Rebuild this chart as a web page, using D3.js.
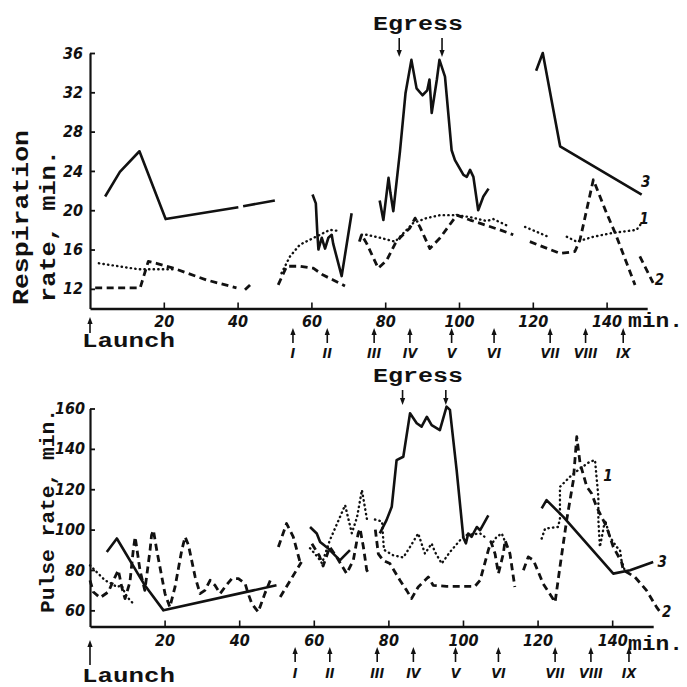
<!DOCTYPE html>
<html>
<head>
<meta charset="utf-8">
<script src="https://cdn.jsdelivr.net/npm/d3@7/dist/d3.min.js"></script>
<style>
  body { margin: 0; background: #fff; }
  svg { display: block; }
  .tick text { font-family: "Liberation Sans Narrow", "DejaVu Sans Condensed", "Liberation Sans", sans-serif;
    font-style: italic; font-weight: bold; font-size: 16px; fill: #111; }
  .tick line, .domain { stroke: #111; }
  .lbl { font-family: "Liberation Mono", "DejaVu Sans Mono", monospace; font-weight: bold; fill: #111; }
  .num { font-family: "Liberation Sans Narrow", "DejaVu Sans Condensed", sans-serif; font-style: italic; font-weight: bold; fill: #111; }
</style>
</head>
<body>
<svg id="chart" width="687" height="687"></svg>
<script>
// axis ticks
var respTicks = [12, 16, 20, 24, 28, 32, 36];
var pulseTicks = [60, 80, 100, 120, 140, 160];
var minuteTicks = [20, 40, 60, 80, 100, 120, 140];

// stage marks under the time axis
var stageNames = ['I', 'II', 'III', 'IV', 'V', 'VI', 'VII', 'VIII', 'IX'];
var stageMin = [55, 64.3, 77, 86.7, 98, 109.5, 124.7, 134.3, 144.5];
var egressMin = [83.8, 95.4];

// respiration rate (minutes, per min), broken into the printed pieces
var respSolid = [
  [[4.1,21.4],[8.1,23.9],[13.4,26.0],[20.5,19.1],[40.2,20.3]],
  [[41.5,20.4],[50.1,21.0]],
  [[60.3,21.6],[61.2,20.7],[61.6,17.7],[61.9,16.0],[62.8,17.2],[63.7,16.1],[64.6,17.2],[65.5,17.5],[65.9,16.6],[68.2,13.3],[70.9,19.7]],
  [[78.5,21.0],[79.5,19.0],[80.9,23.3],[81.4,21.8],[82.2,19.9],[84.0,26.0],[85.5,31.9],[87.1,35.3],[88.5,32.4],[90.1,31.7],[91.4,32.2],[92.0,33.3],[92.6,29.9],[94.0,33.3],[94.7,35.3],[96.2,33.6],[98.0,26.1],[98.9,25.1],[101.2,23.6],[102.1,23.4],[103.0,24.1],[103.9,23.4],[105.2,20.0],[106.6,21.4],[108.0,22.2]],
  [[120.9,34.2],[122.7,36.0],[127.4,26.5],[149.5,21.6]]
];
var respDotted = [
  [[2.4,14.6],[13,14.0],[22.5,14.0]],
  [[51.9,13.6],[54.2,15.3],[56.9,16.5],[59.6,17.0],[62.3,17.5],[65.0,18.0],[67.3,17.9]],
  [[73.6,17.5],[75.0,17.5],[78.6,17.2],[82.7,16.8],[84.0,17.3],[87.6,18.7],[91.2,19.2],[94.9,19.5],[99.4,19.5],[103,19.3],[107.5,18.9],[109.3,19.1],[113.8,18.3]],
  [[117.9,18.3],[124.2,17.3]],
  [[129.2,17.3],[131.9,16.8],[136.4,17.3],[141.8,17.7],[148.1,18.0],[149.5,18.7]]
];
var respDashed = [
  [[1.4,12.1],[13.6,12.1],[15.8,14.8],[18.0,14.6],[22.6,14.1],[31.6,12.9],[39.7,12.1]],
  [[42,11.9],[43.4,12.4]],
  [[51.0,12.4],[53.3,14.3],[56.9,14.3],[60.5,14.1],[63.2,13.4],[65.9,12.9],[69.1,12.3]],
  [[73.0,16.8],[73.6,17.5],[75.0,16.6],[78.1,14.1],[80.4,14.9],[82.7,16.6],[84.0,17.2],[86.7,18.2],[88.1,19.2],[89.4,18.3],[92.1,16.1],[94.9,17.2],[99.4,19.5],[103.0,19.0],[111.1,18.0],[114.7,17.5]],
  [[119.2,16.8],[127.4,15.6],[131.4,15.8],[132.8,17.0],[136.4,23.1],[140,19.7],[142.3,17.7],[147.7,12.4]],
  [[149.0,15.3],[152.6,12.6]]
];

// pulse rate (minutes, per min)
var pulseSolid = [
  [[4.5,88.9],[7.2,95.6],[14.7,72.4],[19.7,60],[43.8,69.9],[50,72.4]],
  [[59.0,101.3],[60.8,98.1],[61.7,93.9],[63.9,90.6],[66.1,86.5],[67.0,84.8],[67.9,86.5],[69.7,89.8]],
  [[77.7,98.1],[79.5,104.7],[80.9,111.3],[82.2,134.4],[84.0,136.1],[85.8,157.6],[87.6,152.7],[88.9,151.0],[90.3,155.9],[91.6,151.8],[93.8,149.3],[95.6,160.9],[96.5,159.3],[98.3,129.5],[100.1,96],[100.8,93.2],[101.4,98.1],[102.3,96.4],[103.7,101.3],[104.6,99.7],[106.8,107.1]],
  [[121.1,110.5],[122.4,114.6],[126.9,106.3],[140.3,78.2],[144.8,79.9],[151.0,84.0]]
];
var pulseDotted = [
  [[0,82.3],[2.2,78.2],[4.0,74.9],[5.8,73.2],[7.2,71.6],[8.5,72.4],[9.4,68.3],[10.7,65.0],[12.1,62.5]],
  [[59.0,90.8],[61.1,86.3],[62.2,83.3],[64.3,94.7],[68.4,112.1],[70.2,98.2],[71.6,106.2],[72.9,119.6],[74.3,104.7]],
  [[76.4,105],[78.3,104],[78.8,90],[81.3,87.3],[84.0,86.2],[85.8,91.4],[88.0,98.1],[89.8,88.1],[91.6,93.1],[92.5,88.9],[94.3,83.2],[96.5,88.9],[99.2,94.7],[100.5,97.2],[104.6,98.1],[106.4,95.6]],
  [[108.1,93.9],[109.0,96.4],[110.4,98.1],[111.5,93]],
  [[121.1,95.6],[122.0,100.5],[125.5,101.3],[126.0,105.5],[126.0,121.2],[128.7,126.2],[131.4,130.3],[134.0,133.6],[135.4,134.4],[135.8,126.2],[136.3,116.2],[136.3,104.7],[136.7,91.4],[138.1,104.7],[139.4,96.4],[141.2,91.4],[142.1,89.8],[142.5,84.8],[143.5,79]]
];
var pulseDashed = [
  [[0,74.9],[0.9,69.1],[2.7,66.3],[4.9,69.1],[6.7,76.5],[7.6,79.9],[8.5,71.6],[9.4,65.8],[10.7,74.0],[11.6,89.8],[12.1,96.4],[12.5,91.4],[13.4,79.9],[14.7,69.9],[16.1,89.8],[16.5,97.2],[17.0,99.7],[17.9,89.8],[20.1,68.3],[21.4,61.6],[22.8,71.6],[24.6,89.8],[25.5,96.4],[26.4,92.3],[28.2,76.5],[29.5,68.3],[30.8,69.9],[32.2,74.9],[33.5,72.4],[34.9,68.3],[36.2,71.6],[38.0,75.7],[39.8,75.7],[41.6,73.2],[42.4,68.3],[43.4,63.3],[45.1,59.2],[46.9,68.4],[48.7,76.5]],
  [[51.0,66.6],[56.7,84.0]],
  [[50.5,91.4],[52.7,103],[54.5,96.4],[56.3,84]],
  [[59.5,93],[61.5,87],[62.5,82],[64.3,91.4],[66.1,86.5],[68.8,78.2],[70.6,84.8],[71.9,98.1],[72.4,100.5],[73.3,91.4],[74.2,79.9],[74.8,78.2]],
  [[76.5,100],[77.3,88],[78.6,84.8],[80.4,83.2],[83.1,74.9],[84.9,69.9],[86.2,65.8],[88.0,71.6],[90.7,76.5],[92.0,72.4],[95.6,71.9],[103.2,71.9],[104.6,74.9],[106.8,89.8],[107.5,94],[108.6,88],[109.5,78.2],[110.8,88],[111.3,94.7],[112.6,88],[113.9,71.6]],
  [[116.2,79.9],[117.5,86.5],[118.9,84.8],[121.5,73.2],[124.7,64.1],[126.0,81.5],[127.8,104.7],[129.6,124.5],[130.5,146],[131.4,132.8],[133.2,121.2],[134.5,117.9],[135.8,111.3],[136.7,108],[138.5,101.3],[140.3,91.4],[142.5,84],[143.0,79.9],[146.1,76.5],[149.2,69.9],[151.9,61.6],[153.2,58.4]]
];

var svg = d3.select('#chart');

var styles = {
  solid:  { w: 2.6, dash: null,      cap: 'butt' },
  dotted: { w: 2.4, dash: '0.4,4.2', cap: 'round' },
  dashed: { w: 2.8, dash: '7,4.5',   cap: 'butt' }
};

function arrow(g, x, yTail, yHead) {
  var dir = yHead > yTail ? 1 : -1;
  g.append('line').attr('x1', x).attr('x2', x).attr('y1', yTail).attr('y2', yHead - dir * 5)
    .attr('stroke', '#111').attr('stroke-width', 1.6);
  g.append('path')
    .attr('d', 'M' + (x - 2.6) + ',' + (yHead - dir * 7) + 'L' + (x + 2.6) + ',' + (yHead - dir * 7) + 'L' + x + ',' + yHead + 'Z')
    .attr('fill', '#111');
}

function drawPanel(p) {
  var g = svg.append('g');
  var x = d3.scaleLinear().domain([0, 151]).range(p.xRange);
  var y = d3.scaleLinear().domain(p.yDomain).range(p.yRange);

  g.append('g')
    .attr('transform', 'translate(0,' + p.yRange[0] + ')')
    .call(d3.axisBottom(x).tickValues(minuteTicks).tickSize(-6).tickSizeOuter(0).tickPadding(p.xPad))
    .call(function(a) { a.select('.domain').attr('stroke-width', 2.6); a.selectAll('.tick line').attr('stroke-width', 1.6); });

  g.append('g')
    .attr('transform', 'translate(' + p.xRange[0] + ',0)')
    .call(d3.axisLeft(y).tickValues(p.yTicks).tickSize(-5).tickSizeOuter(0).tickPadding(p.yPad))
    .call(function(a) { a.select('.domain').attr('stroke-width', 2.2); a.selectAll('.tick line').attr('stroke-width', 1.8); });

  var line = d3.line().x(function(d) { return x(d[0]); }).y(function(d) { return y(d[1]); });

  p.series.forEach(function(s) {
    var st = styles[s.kind];
    g.selectAll(null).data(s.data).enter().append('path')
      .attr('d', line)
      .attr('fill', 'none')
      .attr('stroke', '#111')
      .attr('stroke-width', st.w)
      .attr('stroke-dasharray', st.dash)
      .attr('stroke-linecap', st.cap)
      .attr('stroke-linejoin', 'round');
  });

  // curve numbers
  p.curveLabels.forEach(function(c) {
    g.append('text').attr('class', 'num').attr('x', x(c[1])).attr('y', y(c[2]))
      .attr('font-size', 15).attr('text-anchor', 'middle').text(c[0]);
  });

  // launch
  arrow(g, x(0), p.launchY[1], p.launchY[0]);
  g.append('text').attr('class', 'lbl').attr('x', 82).attr('y', p.launchY[2])
    .attr('font-size', 20).attr('textLength', 93).attr('lengthAdjust', 'spacingAndGlyphs').text('Launch');

  // stages
  stageMin.forEach(function(m, i) {
    arrow(g, x(m), p.stageY[1], p.stageY[0]);
    g.append('text').attr('class', 'num').attr('x', x(m)).attr('y', p.stageY[2])
      .attr('font-size', 14).attr('text-anchor', 'middle').text(stageNames[i]);
  });

  // egress
  egressMin.forEach(function(m) { arrow(g, x(m), p.egressY[0], p.egressY[1]); });
  g.append('text').attr('class', 'lbl').attr('x', 373).attr('y', p.egressY[2])
    .attr('font-size', 20).attr('textLength', 90).attr('lengthAdjust', 'spacingAndGlyphs').text('Egress');

  // min.
  g.append('text').attr('class', 'lbl').attr('x', 628).attr('y', p.minY)
    .attr('font-size', 21).attr('textLength', 55).attr('lengthAdjust', 'spacingAndGlyphs').text('min.');

  // y title
  p.titles.forEach(function(t) {
    g.append('text').attr('class', 'lbl')
      .attr('transform', 'translate(' + t.x + ',' + t.y + ') rotate(-90)')
      .attr('font-size', t.size).attr('textLength', t.len).attr('lengthAdjust', 'spacingAndGlyphs').text(t.text);
  });
}

drawPanel({
  xRange: [90, 647.2], yDomain: [10, 36], yRange: [308.5, 53], yTicks: respTicks, xPad: 7, yPad: 7,
  series: [{ kind: 'solid', data: respSolid }, { kind: 'dotted', data: respDotted }, { kind: 'dashed', data: respDashed }],
  curveLabels: [['3', 150.6, 22.4], ['1', 150.2, 18.6], ['2', 154.3, 12.4]],
  launchY: [317, 333, 347], stageY: [328, 343, 358], egressY: [38, 57, 30], minY: 327,
  titles: [{ text: 'Respiration', x: 28, y: 305, len: 175, size: 22 }, { text: 'rate, min.', x: 55, y: 302, len: 152, size: 22 }]
});

drawPanel({
  xRange: [90, 653.2], yDomain: [52, 160], yRange: [626.5, 408.5], yTicks: pulseTicks, xPad: 8, yPad: 5,
  series: [{ kind: 'solid', data: pulseSolid }, { kind: 'dotted', data: pulseDotted }, { kind: 'dashed', data: pulseDashed }],
  curveLabels: [['3', 153.4, 81.5], ['1', 138.9, 124], ['2', 154.6, 56.5]],
  launchY: [640, 665, 682], stageY: [647, 662, 678], egressY: [390, 405, 382], minY: 650,
  titles: [{ text: 'Pulse rate, min.', x: 54, y: 613, len: 204, size: 20 }]
});
</script>
</body>
</html>
